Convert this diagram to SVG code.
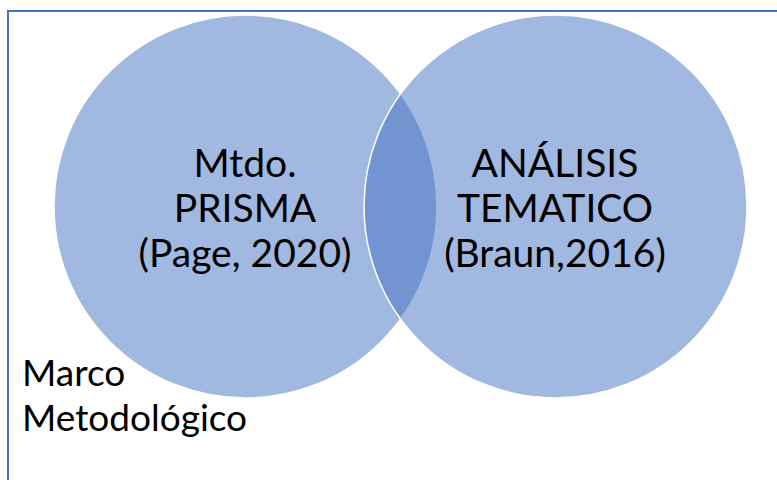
<svg xmlns="http://www.w3.org/2000/svg" width="777" height="480" viewBox="0 0 777 480">
<style>
.c{fill:#4472C4;fill-opacity:0.5;stroke:#FFFFFF;stroke-width:1.5}
.t{font-family:Lato,"Open Sans",sans-serif;font-size:37px;fill:#000000}
.m{text-anchor:middle;font-size:39px}
</style>
<rect x="0" y="0" width="777" height="480" fill="#FFFFFF"/>
<rect x="8" y="11" width="790" height="490" fill="none" stroke="#4472C4" stroke-width="2"/>
<g id="left">
<circle class="c" cx="245.5" cy="206.5" r="191.5"/>
<text class="t m" x="245" y="177">Mtdo.</text>
<text class="t m" x="245" y="222">PRISMA</text>
<text class="t m" x="245" y="267">(Page, 2020)</text>
</g>
<g id="right">
<circle class="c" cx="555.5" cy="206.5" r="191.5"/>
<text class="t m" x="555" y="177">ANÁLISIS</text>
<text class="t m" x="555" y="222">TEMATICO</text>
<text class="t m" x="555" y="267">(Braun,2016)</text>
</g>
<g id="label">
<text class="t" x="22" y="386">Marco</text>
<text class="t" x="22" y="431">Metodológico</text>
</g>
<g id="connectors"></g>
</svg>
